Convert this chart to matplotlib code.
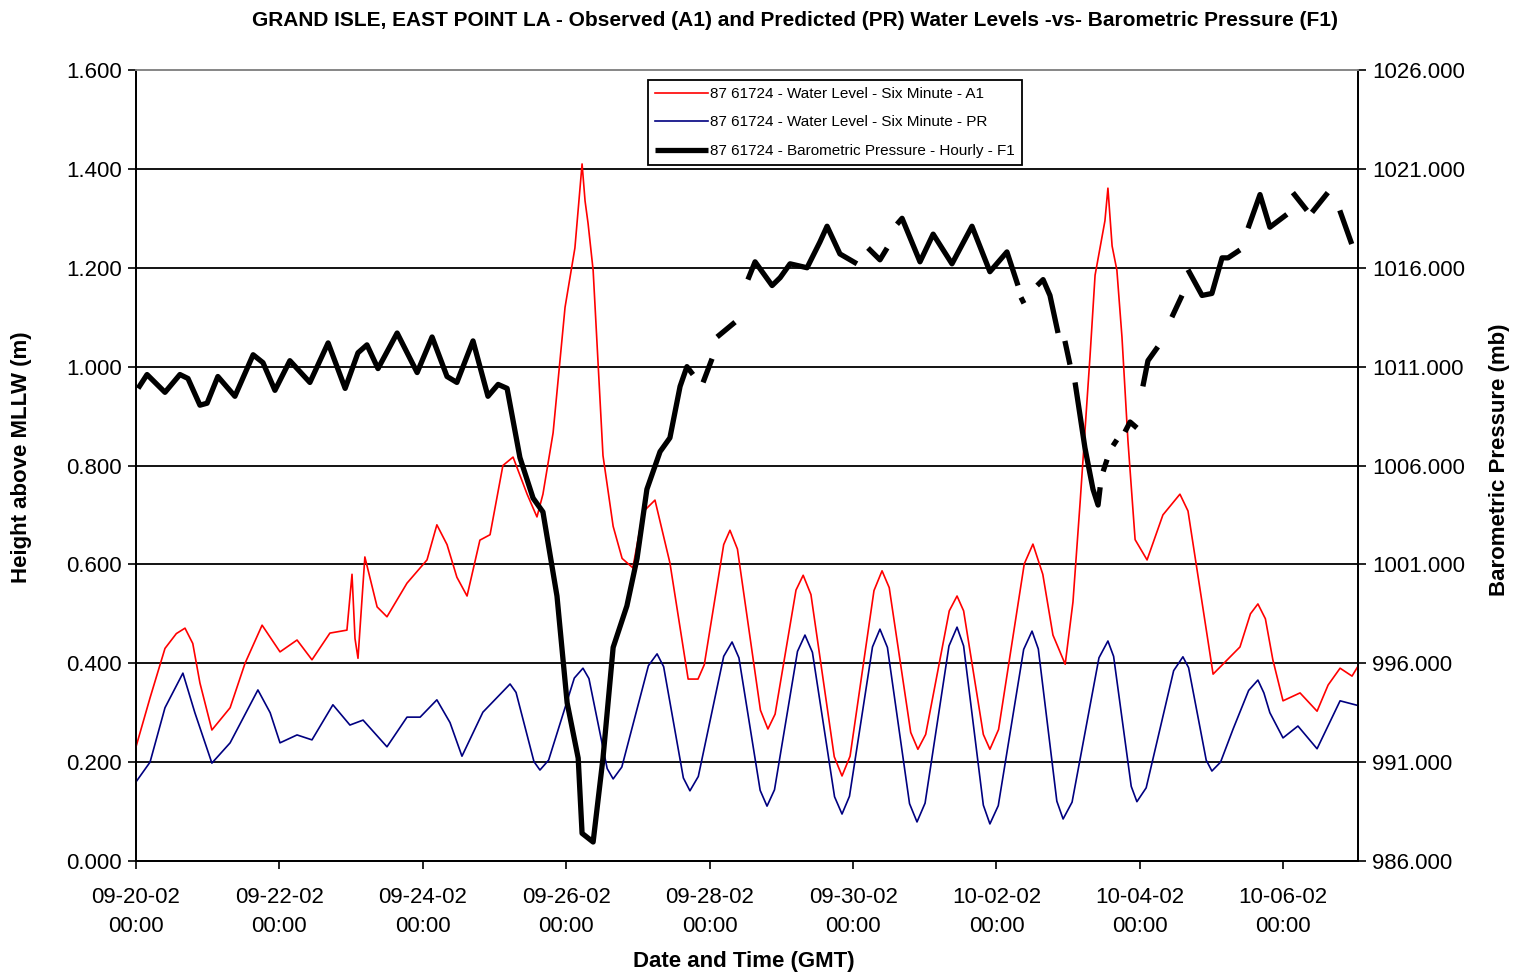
import matplotlib
matplotlib.use('Agg')
import matplotlib.pyplot as plt
import matplotlib.dates as mdates
import matplotlib.ticker as mticker
import numpy as np
import pandas as pd

plt.rcParams['font.family'] = ['Liberation Sans', 'DejaVu Sans']

START = pd.Timestamp('2002-09-20 00:00')
nan = np.nan

# observed water level A1 (hours after start, metres)
a1_hours = [0, 4.7, 9.7, 13.5, 16.4, 19.0, 21.4, 25.4, 31.5, 36.5, 42.2, 48.2, 53.9, 58.9, 64.9, 70.6,
            72.3, 73.3, 74.3, 76.6, 80.7, 84.0, 90.7, 97.4, 100.7, 104.1, 107.4, 110.8, 115.1, 118.5,
            122.8, 126.2, 130.9, 134.2, 136.2, 139.6, 143.6, 146.9, 149.3, 150.3, 151.3, 153.0, 156.3,
            159.7, 162.7, 166.3, 169.7, 173.7, 178.7, 184.8, 188.1,
            190.2, 193.45, 196.7, 198.8, 201.3, 205.15, 209.0, 211.5, 213.9, 217.4, 220.9, 223.3,
            225.9, 229.8, 233.7, 236.3, 239.0, 243.0, 247.0, 249.7, 252.1, 255.7, 259.3, 261.7,
            264.3, 268.25, 272.2, 274.8, 277.0, 280.3, 283.6, 285.8, 288.7, 293.0, 297.3, 300.2,
            303.5, 306.9, 311.0, 313.6, 316.0, 319.3, 321.0, 324.3, 325.3, 326.7, 328.3, 330.0, 332.0,
            334.4, 338.4, 343.7, 349.4, 352.1, 360.5, 369.5, 373.0, 375.5, 378.0, 380.5, 383.9, 389.6,
            395.3, 399.0, 403.0, 407.0, 409.0]
a1_level = [0.231, 0.33, 0.43, 0.46, 0.471, 0.44, 0.36, 0.265, 0.31, 0.40, 0.477, 0.423, 0.447, 0.407,
            0.461, 0.467, 0.58, 0.45, 0.41, 0.615, 0.514, 0.494, 0.562, 0.609, 0.68, 0.64, 0.574, 0.536,
            0.649, 0.66, 0.80, 0.817, 0.742, 0.696, 0.742, 0.866, 1.12, 1.24, 1.41, 1.335, 1.29, 1.195,
            0.82, 0.677, 0.612, 0.593, 0.706, 0.73, 0.603, 0.368, 0.368,
            0.397, 0.5185, 0.64, 0.669, 0.631, 0.468, 0.305, 0.267, 0.297, 0.4225, 0.548, 0.578,
            0.539, 0.375, 0.211, 0.172, 0.212, 0.3795, 0.547, 0.587, 0.553, 0.4065, 0.26, 0.226,
            0.256, 0.381, 0.506, 0.536, 0.506, 0.381, 0.256, 0.226, 0.266, 0.4335, 0.601, 0.641,
            0.58, 0.457, 0.398, 0.524, 0.726, 1.02, 1.185, 1.295, 1.361, 1.244, 1.195, 1.06, 0.85,
            0.65, 0.609, 0.70, 0.742, 0.708, 0.378, 0.433, 0.50, 0.52, 0.49, 0.407, 0.324, 0.34,
            0.303, 0.356, 0.39, 0.374, 0.394]

# predicted water level PR
pr_hours = [0, 4.7, 9.7, 15.7, 19.7, 25.4, 31.5, 40.8, 44.9, 48.2, 53.9, 58.9, 65.9, 71.6, 76.0, 84.0,
            90.7, 95.1, 100.7, 105.1, 109.1, 116.1, 125.2,
            127.2, 130.2, 133.2, 135.2, 138.1, 142.4, 146.7, 149.6, 151.6, 154.65, 157.7, 159.7,
            162.6, 167.05, 171.5, 174.4, 176.6, 179.9, 183.2, 185.4, 188.2, 192.45, 196.7, 199.5,
            201.8, 205.35, 208.9, 211.2, 213.7, 217.55, 221.4, 223.9, 226.4, 230.1, 233.8, 236.3,
            238.8, 242.65, 246.5, 249.0, 251.5, 255.2, 258.9, 261.4, 264.1, 268.1, 272.1, 274.8,
            277.0, 280.3, 283.6, 285.8, 288.6, 292.85, 297.1, 299.9, 302.0, 305.1, 308.2, 310.3,
            313.3, 317.8, 322.3, 325.3, 327.2, 330.15, 333.1, 335.0, 338.1, 342.7, 347.3, 350.4,
            352.3, 355.25, 358.2, 360.1, 363.0, 367.2, 372.4, 375.5, 377.5, 379.5, 383.9, 388.9,
            395.3, 403.0, 408.7]
pr_level = [0.16, 0.2, 0.31, 0.38, 0.30, 0.198, 0.239, 0.346, 0.30, 0.239, 0.255, 0.245, 0.316, 0.275,
            0.285, 0.231, 0.291, 0.291, 0.326, 0.28, 0.212, 0.301, 0.358,
            0.341, 0.271, 0.201, 0.184, 0.204, 0.287, 0.37, 0.39, 0.369, 0.278, 0.187, 0.166,
            0.190, 0.2925, 0.395, 0.419, 0.393, 0.2805, 0.168, 0.142, 0.171, 0.2925, 0.414, 0.443,
            0.411, 0.277, 0.143, 0.111, 0.144, 0.284, 0.424, 0.457, 0.422, 0.276, 0.130, 0.095,
            0.131, 0.282, 0.433, 0.469, 0.432, 0.274, 0.116, 0.079, 0.117, 0.276, 0.435, 0.473,
            0.435, 0.274, 0.113, 0.075, 0.112, 0.27, 0.428, 0.465, 0.429, 0.275, 0.121, 0.085,
            0.119, 0.265, 0.411, 0.445, 0.414, 0.2825, 0.151, 0.12, 0.148, 0.2665, 0.385, 0.413,
            0.391, 0.2975, 0.204, 0.182, 0.2, 0.267, 0.345, 0.366, 0.34, 0.30, 0.249, 0.273,
            0.227, 0.324, 0.315]

# barometric pressure F1 (mb), nan marks missing hours
f1_hours = [0.7, 3.7, 9.7, 14.7, 17.4, 21.4, 23.8, 27.4, 33.1, 39.2, 42.5, 46.5, 51.5, 58.2, 64.3, 70.0,
            74.3, 77.3, 81.0, 87.4, 94.1, 99.1, 104.1, 107.4, 112.8, 117.8, 121.2, 124.2, 128.5, 132.9,
            136.2, 140.9, 144.3, 148.0, 149.3, 153.0, 156.3, 159.7, 164.3, 167.7, 171.0, 175.4, 178.7,
            182.1, 184.4, 186.4, 188.0, 189.8, 192.8, 193.6, 194.5, 200.5, 202.5, 204.8, 207.2, 212.9,
            215.6, 218.9, 224.6, 228.9, 231.3, 235.6, 241.3, 243.0, 245.0, 249.0, 251.4, 253.0, 254.7,
            256.4, 262.4, 266.8, 273.1, 279.8, 285.8, 291.5, 295.2, 295.7, 296.2, 297.2, 299.0, 301.6,
            303.6, 305.9, 308.6, 309.8, 310.9, 312.6, 313.5, 314.3, 317.6, 320.3, 322.0, 322.7, 323.2,
            323.7, 325.0, 326.0, 327.0, 328.3, 329.6, 331.0, 332.7, 335.0, 336.0, 337.0, 338.7, 342.0,
            344.0, 346.7, 350.1, 351.1, 352.1, 356.8, 360.1, 363.5, 365.5, 369.5, 371.0, 372.2, 376.2,
            379.5, 385.2, 386.2, 387.2, 391.9, 392.8, 393.6, 398.9, 401.0, 402.9, 406.9]
f1_pressure = [1009.9, 1010.6, 1009.7, 1010.6, 1010.4, 1009.05, 1009.15, 1010.5, 1009.5, 1011.6, 1011.2,
               1009.8, 1011.3, 1010.2, 1012.2, 1009.9, 1011.7, 1012.1, 1010.9, 1012.7, 1010.7, 1012.5,
               1010.5, 1010.2, 1012.3, 1009.5, 1010.1, 1009.9, 1006.4, 1004.35, 1003.65, 999.4, 994.0,
               991.2, 987.4, 986.96, 991.2, 996.8, 998.9, 1001.3, 1004.8, 1006.7, 1007.4, 1010.0, 1011.0,
               1010.6, nan, 1010.2, 1011.4, nan, 1012.5, 1013.25, nan, 1015.4, 1016.3, 1015.1, 1015.5,
               1016.2, 1016.0, 1017.3, 1018.1, 1016.7, 1016.2, nan, 1017.0, 1016.4, 1017.0, nan, 1018.2,
               1018.5, 1016.3, 1017.7, 1016.2, 1018.1, 1015.8, 1016.8, 1015.1, nan, 1014.5, 1014.2, nan,
               1015.1, 1015.4, 1014.6, 1012.7, nan, 1012.3, 1011.1, nan, 1010.2, 1006.9, 1004.8, 1004.0,
               1004.9, nan, 1005.7, 1006.3, nan, 1007.0, 1007.3, nan, 1007.7, 1008.2, 1007.9, nan, 1010.0,
               1011.3, 1012.0, nan, 1013.5, 1014.6, nan, 1015.9, 1014.6, 1014.7, 1016.5, 1016.5, 1016.9,
               nan, 1018.0, 1019.7, 1018.05, 1018.7, nan, 1019.8, 1018.9, nan, 1018.8, 1019.8, nan,
               1018.9, 1017.2]

left_ticks = [0.0, 0.2, 0.4, 0.6, 0.8, 1.0, 1.2, 1.4, 1.6]
right_ticks = [986, 991, 996, 1001, 1006, 1011, 1016, 1021, 1026]

legend_labels = ['87 61724 - Water Level - Six Minute - A1',
                 '87 61724 - Water Level - Six Minute - PR',
                 '87 61724 - Barometric Pressure - Hourly - F1']


def to_time(hours):
    return START + pd.to_timedelta(hours, unit='h')


fig = plt.figure(figsize=(15.15, 9.74), dpi=100)
ax = fig.add_axes([136 / 1515, 113 / 974, 1222 / 1515, 791 / 974])
ax2 = ax.twinx()

l1, = ax.plot(to_time(a1_hours), a1_level, color='#ff0000', lw=1.2, zorder=3)
l2, = ax.plot(to_time(pr_hours), pr_level, color='#000080', lw=1.2, zorder=3)
l3, = ax2.plot(to_time(f1_hours), f1_pressure, color='black', lw=3.8, solid_capstyle='butt')

ax.set_ylim(0, 1.6)
ax.set_yticks(left_ticks)
ax.yaxis.set_major_formatter(mticker.FormatStrFormatter('%.3f'))
ax2.set_ylim(986, 1026)
ax2.set_yticks(right_ticks)
ax2.yaxis.set_major_formatter(mticker.FormatStrFormatter('%.3f'))

ax.set_xlim(START, to_time(409.0))
ax.xaxis.set_major_locator(mdates.DayLocator(interval=2))
ax.xaxis.set_major_formatter(mdates.DateFormatter('%m-%d-%y\n%H:%M'))

for y in left_ticks[1:-1]:
    ax.axhline(y, color='black', lw=1.3, zorder=1)

for a in (ax, ax2):
    a.tick_params(direction='out', length=6, width=1.2, labelsize=16, pad=4)
    for s in a.spines.values():
        s.set_linewidth(1.3)
    a.spines['top'].set_color('#888888')
ax.tick_params(axis='x', pad=13)
for lab in ax.get_xticklabels():
    lab.set_linespacing(1.45)

fig.text(795 / 1515, 1 - 20 / 974, 'GRAND ISLE, EAST POINT LA - Observed (A1) and Predicted (PR) Water Levels -vs- Barometric Pressure (F1)',
         ha='center', va='center', fontsize=15, fontweight='bold')
fig.text(744 / 1515, 1 - 961 / 974, 'Date and Time (GMT)', ha='center', va='center',
         fontsize=16, fontweight='bold')
fig.text(22 / 1515, 1 - 457 / 974, 'Height above MLLW (m)', ha='center', va='center',
         rotation=90, fontsize=16, fontweight='bold')
fig.text(1500 / 1515, 1 - 460 / 974, 'Barometric Pressure (mb)', ha='center', va='center',
         rotation=90, fontsize=16, fontweight='bold')

leg = ax2.legend([l1, l2, l3], legend_labels, loc='upper left',
                 bbox_to_anchor=(648 / 1515, 1 - 80 / 974), bbox_transform=fig.transFigure,
                 fontsize=11, handlelength=3.5, handletextpad=0.1, borderaxespad=0,
                 fancybox=False, edgecolor='black', framealpha=1, labelspacing=0.95,
                 borderpad=0.45)
leg.get_frame().set_linewidth(1.3)

fig.savefig('out.png', dpi=100)
